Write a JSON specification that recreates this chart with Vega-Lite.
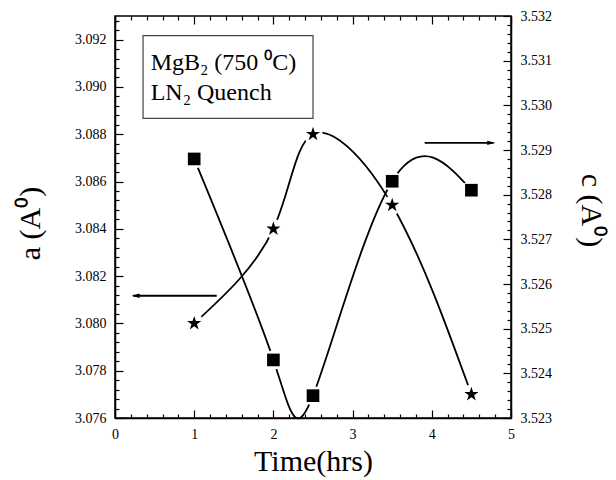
{
  "$schema": "https://vega.github.io/schema/vega-lite/v6.json",
  "width": 396,
  "height": 402,
  "autosize": "none",
  "padding": {"left": 115, "top": 16, "right": 105, "bottom": 62},
  "background": "white",
  "config": {
    "font": "Liberation Serif",
    "view": {"stroke": "black", "strokeWidth": 1.5},
    "axis": {
      "domainColor": "black",
      "domainWidth": 1.5,
      "tickColor": "black",
      "tickWidth": 1.2,
      "gridColor": "black",
      "gridOpacity": 1,
      "gridWidth": 1.2,
      "labelColor": "black",
      "labelFont": "Liberation Serif",
      "labelFontSize": 14,
      "titleFont": "Liberation Serif",
      "titleFontWeight": "normal",
      "titleColor": "black",
      "titleFontSize": 30,
      "grid": false
    }
  },
  "datasets": {
    "adata": [
      {"t": 1, "a": 3.0800},
      {"t": 2, "a": 3.0840},
      {"t": 2.5, "a": 3.0880},
      {"t": 3.5, "a": 3.0850},
      {"t": 4.5, "a": 3.0770}
    ],
    "cdata": [
      {"t": 1, "c": 3.5288},
      {"t": 2, "c": 3.5243},
      {"t": 2.5, "c": 3.5235},
      {"t": 3.5, "c": 3.5283},
      {"t": 4.5, "c": 3.5281}
    ]
  },
  "layer": [
    {
      "data": {"name": "adata"},
      "mark": {"type": "line", "interpolate": "natural", "color": "black", "strokeWidth": 1.8},
      "encoding": {
        "x": {
          "field": "t", "type": "quantitative",
          "scale": {"domain": [0, 5], "nice": false, "zero": false},
          "axis": {
            "orient": "bottom",
            "title": "Time(hrs)",
            "titleX": 198, "titleY": 52, "titleBaseline": "alphabetic",
            "values": [0, 1, 2, 3, 4, 5],
            "format": "d",
            "ticks": false,
            "labelPadding": 9,
            "labelFlush": false
          }
        },
        "y": {
          "field": "a", "type": "quantitative",
          "scale": {"domain": [3.076, 3.093], "nice": false, "zero": false},
          "axis": {
            "orient": "left",
            "title": "a (A⁰)",
            "titleAngle": 270, "titleAlign": "center", "titleBaseline": "bottom",
            "titleX": -70, "titleY": 207,
            "values": [3.076, 3.078, 3.08, 3.082, 3.084, 3.086, 3.088, 3.09, 3.092],
            "format": ".3f",
            "ticks": false,
            "labelPadding": 9,
            "labelFlush": false
          }
        }
      }
    },
    {
      "data": {"name": "cdata"},
      "mark": {"type": "line", "interpolate": "natural", "color": "black", "strokeWidth": 1.8},
      "encoding": {
        "x": {
          "field": "t", "type": "quantitative",
          "scale": {"domain": [0, 5], "nice": false, "zero": false},
          "axis": {
            "orient": "top", "title": null, "labels": false, "domain": false, "ticks": false,
            "grid": true, "gridDash": [8, 2000],
            "values": [0, 1, 2, 3, 4, 5]
          }
        },
        "y": {
          "field": "c", "type": "quantitative",
          "scale": {"domain": [3.523, 3.532], "nice": false, "zero": false},
          "axis": {
            "orient": "right",
            "title": "c (A⁰)",
            "titleAngle": 90, "titleAlign": "center", "titleBaseline": "bottom",
            "titleX": 64, "titleY": 194,
            "values": [3.523, 3.524, 3.525, 3.526, 3.527, 3.528, 3.529, 3.53, 3.531, 3.532],
            "format": ".3f",
            "ticks": false,
            "labelPadding": 9,
            "labelFlush": false
          }
        }
      }
    },
    {
      "data": {"name": "adata"},
      "mark": {"type": "point", "shape": "circle", "filled": true, "color": "white", "size": 380, "opacity": 1},
      "encoding": {
        "x": {"field": "t", "type": "quantitative", "scale": {"domain": [0, 5], "nice": false, "zero": false},
          "axis": {"orient": "bottom", "title": null, "labels": false, "domain": false, "ticks": false, "grid": true, "gridDash": [4, 2000],
            "values": [0.2,0.4,0.6,0.8,1.2,1.4,1.6,1.8,2.2,2.4,2.6,2.8,3.2,3.4,3.6,3.8,4.2,4.4,4.6,4.8]}},
        "y": {"field": "a", "type": "quantitative", "scale": {"domain": [3.076, 3.093], "nice": false, "zero": false},
          "axis": {"orient": "left", "title": null, "labels": false, "domain": false, "ticks": false, "grid": true, "gridDash": [4, 2000],
            "values": [3.0764,3.0768,3.0772,3.0776,3.0784,3.0788,3.0792,3.0796,3.0804,3.0808,3.0812,3.0816,3.0824,3.0828,3.0832,3.0836,3.0844,3.0848,3.0852,3.0856,3.0864,3.0868,3.0872,3.0876,3.0884,3.0888,3.0892,3.0896,3.0904,3.0908,3.0912,3.0916,3.0924,3.0928]}}
      }
    },
    {
      "data": {"name": "cdata"},
      "mark": {"type": "point", "shape": "circle", "filled": true, "color": "white", "size": 380, "opacity": 1},
      "encoding": {
        "x": {"field": "t", "type": "quantitative", "scale": {"domain": [0, 5], "nice": false, "zero": false},
          "axis": {"orient": "top", "title": null, "labels": false, "domain": false, "ticks": false, "grid": true, "gridDash": [4, 2000],
            "values": [0.2,0.4,0.6,0.8,1.2,1.4,1.6,1.8,2.2,2.4,2.6,2.8,3.2,3.4,3.6,3.8,4.2,4.4,4.6,4.8]}},
        "y": {"field": "c", "type": "quantitative", "scale": {"domain": [3.523, 3.532], "nice": false, "zero": false},
          "axis": {"orient": "right", "title": null, "labels": false, "domain": false, "ticks": false, "grid": true, "gridDash": [4, 2000],
            "values": [3.5232,3.5234,3.5236,3.5238,3.5242,3.5244,3.5246,3.5248,3.5252,3.5254,3.5256,3.5258,3.5262,3.5264,3.5266,3.5268,3.5272,3.5274,3.5276,3.5278,3.5282,3.5284,3.5286,3.5288,3.5292,3.5294,3.5296,3.5298,3.5302,3.5304,3.5306,3.5308,3.5312,3.5314,3.5316,3.5318]}}
      }
    },
    {
      "data": {"name": "adata"},
      "mark": {"type": "point", "shape": "M 0 -1 L 0.2245 -0.309 L 0.951 -0.309 L 0.363 0.118 L 0.588 0.809 L 0 0.382 L -0.588 0.809 L -0.363 0.118 L -0.951 -0.309 L -0.2245 -0.309 Z", "filled": true, "color": "black", "size": 225, "opacity": 1},
      "encoding": {
        "x": {"field": "t", "type": "quantitative", "scale": {"domain": [0, 5], "nice": false, "zero": false},
          "axis": {"orient": "bottom", "title": null, "labels": false, "domain": false, "ticks": false, "grid": true, "gridDash": [8, 2000],
            "values": [0, 1, 2, 3, 4, 5]}},
        "y": {"field": "a", "type": "quantitative", "scale": {"domain": [3.076, 3.093], "nice": false, "zero": false},
          "axis": {"orient": "left", "title": null, "labels": false, "domain": false, "ticks": false, "grid": true, "gridDash": [8, 2000],
            "values": [3.076, 3.078, 3.08, 3.082, 3.084, 3.086, 3.088, 3.09, 3.092]}}
      }
    },
    {
      "data": {"name": "cdata"},
      "mark": {"type": "point", "shape": "square", "filled": true, "color": "black", "size": 160, "opacity": 1},
      "encoding": {
        "x": {"field": "t", "type": "quantitative", "scale": {"domain": [0, 5], "nice": false, "zero": false}, "axis": null},
        "y": {"field": "c", "type": "quantitative", "scale": {"domain": [3.523, 3.532], "nice": false, "zero": false},
          "axis": {"orient": "right", "title": null, "labels": false, "domain": false, "ticks": false, "grid": true, "gridDash": [8, 2000],
            "values": [3.523, 3.524, 3.525, 3.526, 3.527, 3.528, 3.529, 3.53, 3.531, 3.532]}}
      }
    },
    {
      "data": {"values": [{"x1": 1.284, "x2": 0.23, "y": 3.08117}]},
      "mark": {"type": "rule", "color": "black", "strokeWidth": 1.8},
      "encoding": {
        "x": {"field": "x1", "type": "quantitative", "scale": {"domain": [0, 5], "nice": false, "zero": false}, "axis": null},
        "x2": {"field": "x2"},
        "y": {"field": "y", "type": "quantitative", "scale": {"domain": [3.076, 3.093], "nice": false, "zero": false}, "axis": null}
      }
    },
    {
      "data": {"values": [{"x": 0.21, "y": 3.08117}]},
      "mark": {"type": "point", "shape": "M 0 0 L 2 -0.55 L 2 0.55 Z", "filled": true, "color": "black", "size": 64, "opacity": 1},
      "encoding": {
        "x": {"field": "x", "type": "quantitative", "scale": {"domain": [0, 5], "nice": false, "zero": false}, "axis": null},
        "y": {"field": "y", "type": "quantitative", "scale": {"domain": [3.076, 3.093], "nice": false, "zero": false}, "axis": null}
      }
    },
    {
      "data": {"values": [{"x1": 3.91, "x2": 4.78, "y": 3.52916}]},
      "mark": {"type": "rule", "color": "black", "strokeWidth": 1.8},
      "encoding": {
        "x": {"field": "x1", "type": "quantitative", "scale": {"domain": [0, 5], "nice": false, "zero": false}, "axis": null},
        "x2": {"field": "x2"},
        "y": {"field": "y", "type": "quantitative", "scale": {"domain": [3.523, 3.532], "nice": false, "zero": false}, "axis": null}
      }
    },
    {
      "data": {"values": [{"x": 4.8, "y": 3.52916}]},
      "mark": {"type": "point", "shape": "M 0 0 L -2 -0.55 L -2 0.55 Z", "filled": true, "color": "black", "size": 64, "opacity": 1},
      "encoding": {
        "x": {"field": "x", "type": "quantitative", "scale": {"domain": [0, 5], "nice": false, "zero": false}, "axis": null},
        "y": {"field": "y", "type": "quantitative", "scale": {"domain": [3.523, 3.532], "nice": false, "zero": false}, "axis": null}
      }
    },
    {
      "data": {"values": [{"x1": 0.354, "x2": 2.5, "y1": 3.09217, "y2": 3.08867}]},
      "mark": {"type": "rect", "fill": "white", "stroke": "#444444", "strokeWidth": 1.2},
      "encoding": {
        "x": {"field": "x1", "type": "quantitative", "scale": {"domain": [0, 5], "nice": false, "zero": false}, "axis": null},
        "x2": {"field": "x2"},
        "y": {"field": "y1", "type": "quantitative", "scale": {"domain": [3.076, 3.093], "nice": false, "zero": false}, "axis": null},
        "y2": {"field": "y2"}
      }
    },
    {
      "data": {"values": [
        {"x": 0.45, "y": 3.0907, "label": "MgB₂ (750 ⁰C)"},
        {"x": 0.45, "y": 3.08943, "label": "LN₂ Quench"}
      ]},
      "mark": {"type": "text", "align": "left", "baseline": "alphabetic", "font": "Liberation Serif", "fontSize": 24, "color": "black"},
      "encoding": {
        "x": {"field": "x", "type": "quantitative", "scale": {"domain": [0, 5], "nice": false, "zero": false}, "axis": null},
        "y": {"field": "y", "type": "quantitative", "scale": {"domain": [3.076, 3.093], "nice": false, "zero": false}, "axis": null},
        "text": {"field": "label"}
      }
    }
  ],
  "resolve": {"scale": {"x": "independent", "y": "independent"}}
}
